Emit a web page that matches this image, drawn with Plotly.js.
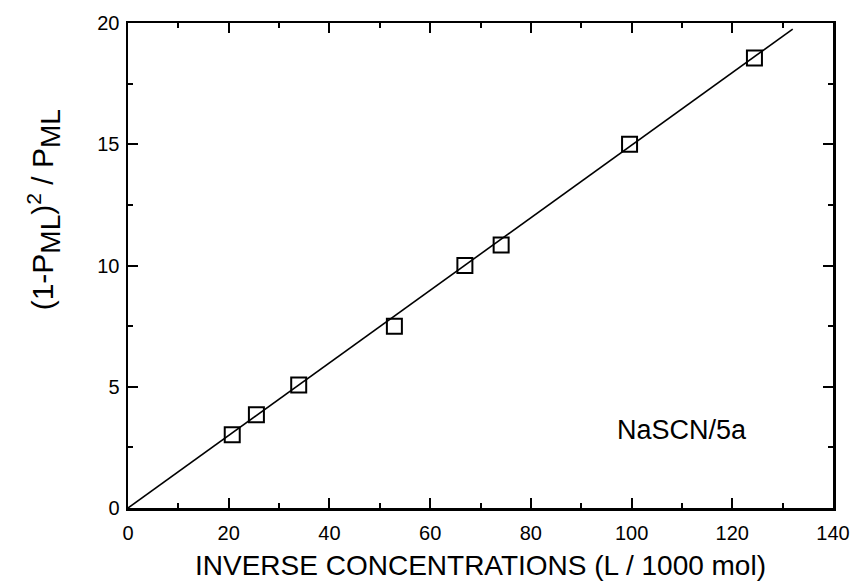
<!DOCTYPE html>
<html>
<head>
<meta charset="utf-8">
<script src="https://cdn.plot.ly/plotly-3.0.1.min.js"></script>
<style>html,body{margin:0;padding:0;background:#fff;}#chart{width:853px;height:583px;}</style>
</head>
<body>
<div id="chart"></div>
<script>
// Measured data (inverse concentration, (1-P_ML)^2/P_ML)
const invConc = [20.7, 25.5, 33.9, 52.9, 66.9, 74.1, 99.6, 124.4];
const ratio   = [3.02, 3.85, 5.07, 7.5, 10.0, 10.85, 15.0, 18.56];
// Fitted line endpoints
const fitX = [0, 132];
const fitY = [0, 19.75];
const xTicks = [0, 20, 40, 60, 80, 100, 120, 140];
const yTicks = [0, 5, 10, 15, 20];
const label = 'NaSCN/5a';

const font = 'Arial, "Liberation Sans", Helvetica, sans-serif';

const traces = [
  {x: fitX, y: fitY, mode: 'lines', line: {color: '#000', width: 1.6}, hoverinfo: 'skip', showlegend: false},
  {x: invConc, y: ratio, mode: 'markers', showlegend: false,
   marker: {symbol: 'square-open', size: 15, color: '#000', line: {width: 2, color: '#000'}}}
];

const axisCommon = {
  showline: true, linecolor: '#000', linewidth: 2.5, mirror: 'ticks',
  ticks: 'inside', ticklen: 10, tickwidth: 2, tickcolor: '#000',
  showgrid: false, zeroline: false,
  tickfont: {family: font, size: 20, color: '#000'}
};

const layout = {
  width: 853, height: 583,
  margin: {l: 128, r: 20, t: 23, b: 75},
  paper_bgcolor: '#fff', plot_bgcolor: '#fff',
  xaxis: Object.assign({}, axisCommon, {
    range: [0, 140], tickvals: xTicks, ticktext: xTicks.map(String),
    ticklabelstandoff: 5,
    minor: {dtick: 10, ticks: 'inside', ticklen: 5, tickwidth: 2, tickcolor: '#000', showgrid: false},
    title: {text: 'INVERSE CONCENTRATIONS (L / 1000 mol)', font: {family: font, size: 28, color: '#000'}, standoff: 13}
  }),
  yaxis: Object.assign({}, axisCommon, {
    range: [0, 20], tickvals: yTicks, ticktext: yTicks.map(String),
    ticklabelstandoff: 2,
    minor: {dtick: 2.5, ticks: 'inside', ticklen: 5, tickwidth: 2, tickcolor: '#000', showgrid: false}
  }),
  annotations: [
    {xref: 'paper', yref: 'paper', x: -0.119, y: 0.614, xanchor: 'center', yanchor: 'middle',
     textangle: -90, showarrow: false,
     text: '(1-P<sub><span style="font-size:28px">ML</span></sub>)<sup>2</sup> / P<sub><span style="font-size:28px">ML</span></sub>',
     font: {family: font, size: 30, color: '#000'}},
    {xref: 'x', yref: 'y', x: 110, y: 3.22, xanchor: 'center', yanchor: 'middle', showarrow: false,
     text: label, font: {family: font, size: 27, color: '#000'}}
  ]
};

Plotly.newPlot('chart', traces, layout, {staticPlot: true, displayModeBar: false});
</script>
</body>
</html>
